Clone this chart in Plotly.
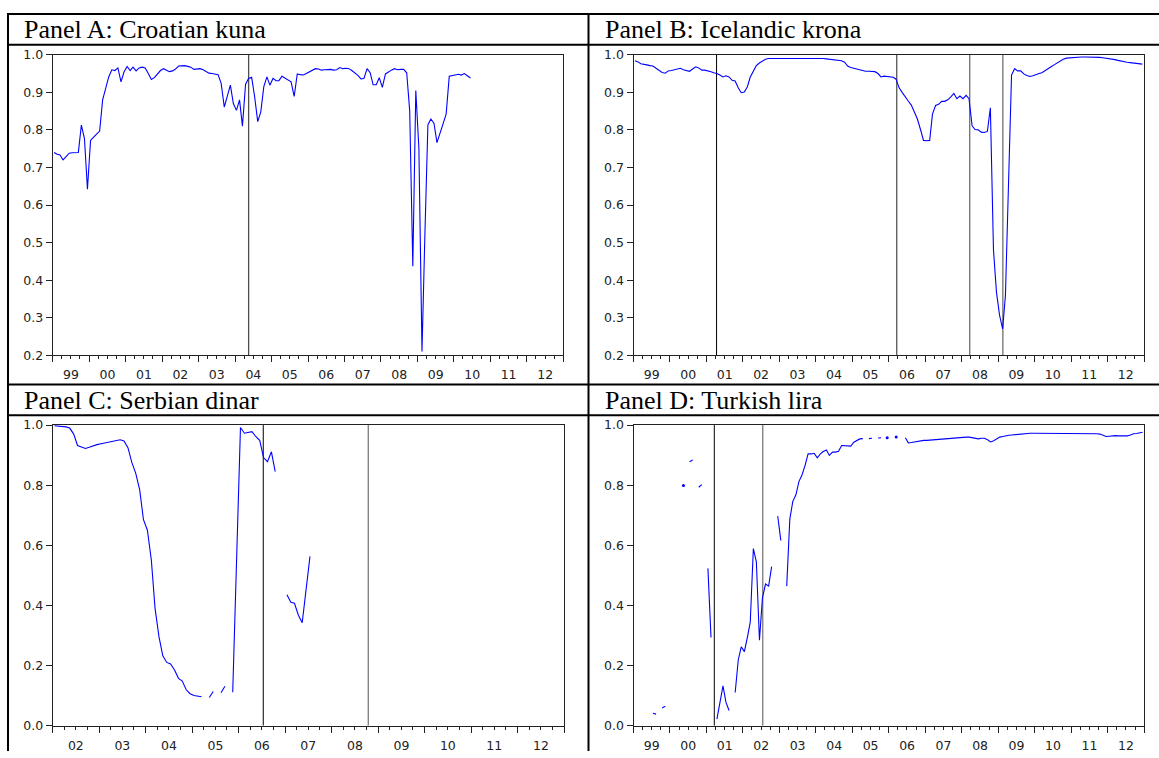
import pandas as pd
import plotly.graph_objects as go

W, H = 1159, 758

# ---------------- data (monthly observations) ----------------
hr_start = "1999-01-01"
hr_vals = [
    0.740, 0.735, 0.733, 0.720, 0.729, 0.738, 0.739, 0.739, 0.740, 0.813, 0.777, 0.642,
    0.772, 0.781, 0.790, 0.797, 0.880, 0.915, 0.941, 0.960, 0.958, 0.965, 0.928, 0.954,
    0.969, 0.958, 0.967, 0.957, 0.965, 0.967, 0.965, 0.950, 0.934, 0.939, 0.950, 0.958,
    0.963, 0.958, 0.955, 0.957, 0.962, 0.970, 0.971, 0.971, 0.969, 0.967, 0.961, 0.962,
    0.963, 0.960, 0.955, 0.951, 0.950, 0.948, 0.947, 0.924, 0.861, 0.889, 0.919, 0.870,
    0.852, 0.880, 0.810, 0.921, 0.937, 0.940, 0.889, 0.822, 0.848, 0.915, 0.941, 0.919,
    0.937, 0.931, 0.931, 0.943, 0.938, 0.931, 0.928, 0.889, 0.949, 0.947, 0.946, 0.950,
    0.955, 0.960, 0.963, 0.962, 0.959, 0.960, 0.961, 0.961, 0.959, 0.960, 0.966, 0.963,
    0.964, 0.963, 0.958, 0.952, 0.945, 0.936, 0.937, 0.963, 0.952, 0.920, 0.920, 0.939,
    0.913, 0.949, 0.955, 0.959, 0.963, 0.960, 0.961, 0.961, 0.952, 0.850, 0.437, 0.905,
    0.750, 0.210, 0.510, 0.813, 0.829, 0.818, 0.766, 0.791, 0.816, 0.842, 0.943, 0.945,
    0.946, 0.948, 0.946, 0.950, 0.944, 0.938,
]

is_start = "1999-01-01"
is_vals = [
    0.984, 0.981, 0.976, 0.975, 0.973, 0.971, 0.970, 0.964, 0.958, 0.953, 0.951, 0.957,
    0.958, 0.960, 0.962, 0.964, 0.960, 0.957, 0.956, 0.962, 0.968, 0.965, 0.959, 0.959,
    0.958, 0.955, 0.952, 0.950, 0.946, 0.941, 0.944, 0.941, 0.932, 0.930, 0.912, 0.899,
    0.901, 0.915, 0.940, 0.958, 0.971, 0.978, 0.984, 0.988, 0.990, 0.990, 0.991, 0.991,
    0.991, 0.992, 0.992, 0.992, 0.992, 0.992, 0.992, 0.992, 0.992, 0.992, 0.992, 0.991,
    0.991, 0.990, 0.990, 0.989, 0.988, 0.987, 0.986, 0.985, 0.984, 0.980, 0.970, 0.966,
    0.965, 0.962, 0.960, 0.957, 0.956, 0.956, 0.955, 0.955, 0.950, 0.941, 0.943, 0.942,
    0.942, 0.940, 0.935, 0.912, 0.900, 0.887, 0.877, 0.866, 0.846, 0.829, 0.801, 0.772,
    0.771, 0.772, 0.842, 0.865, 0.868, 0.876, 0.876, 0.880, 0.888, 0.897, 0.883, 0.890,
    0.883, 0.892, 0.883, 0.811, 0.801, 0.800, 0.794, 0.793, 0.796, 0.859, 0.481, 0.368,
    0.307, 0.270, 0.360, 0.650, 0.946, 0.963, 0.957, 0.957, 0.949, 0.945, 0.942, 0.944,
    0.948, 0.950, 0.952, 0.958, 0.963, 0.968, 0.973, 0.978, 0.985, 0.988, 0.991, 0.992,
    0.993, 0.993, 0.994, 0.994, 0.994, 0.994, 0.994, 0.994, 0.993, 0.993, 0.992, 0.991,
    0.990, 0.989, 0.987, 0.985, 0.983, 0.981, 0.980, 0.979, 0.978, 0.977, 0.976, 0.975,
]

rs_start = "2002-01-01"
rs_vals = [
    0.998, 0.997, 0.996, 0.994, 0.990, 0.970, 0.932, 0.928, 0.922, 0.926, 0.931, 0.935,
    0.938, 0.941, 0.943, 0.945, 0.948, 0.951, 0.947, 0.925, 0.875, 0.840, 0.785, 0.685,
    0.650, 0.550, 0.390, 0.295, 0.232, 0.210, 0.205, 0.185, 0.157, 0.148, 0.119, 0.106,
    0.100, 0.097, 0.096, None, 0.093, 0.113, None, 0.109, 0.131, None, 0.111, 0.550,
    0.992, 0.973, 0.976, 0.978, 0.962, 0.949, 0.892, 0.878, 0.911, 0.845, None, None,
    0.435, 0.410, 0.407, 0.367, 0.342, 0.450, 0.563,
]

tr_start = "1999-01-01"
tr_vals = [
    None, None, None, None, None, None, 0.041, 0.038, None, 0.058, 0.064, None,
    None, None, None, None, 0.799, None, 0.878, 0.884, None, 0.793, 0.802, None,
    0.523, 0.293, None, 0.021, 0.077, 0.132, 0.077, 0.050, None, 0.110, 0.219, 0.262,
    0.246, 0.295, 0.344, 0.589, 0.545, 0.284, 0.425, 0.471, 0.464, 0.529, None, 0.697,
    0.616, None, 0.464, 0.687, 0.746, 0.768, 0.812, 0.834, 0.866, 0.904, 0.904, 0.906,
    0.891, 0.904, 0.912, 0.917, 0.899, 0.910, 0.910, 0.913, 0.932, 0.932, 0.931, 0.930,
    0.943, 0.950, 0.954, 0.955, None, 0.955, 0.956, None, 0.957, 0.958, None, 0.958,
    None, None, 0.960, None, None, 0.958, 0.941, 0.942, 0.944, 0.947, 0.948, 0.949,
    0.949, 0.950, 0.950, 0.951, 0.952, 0.952, 0.953, 0.954, 0.956, 0.958, 0.958, 0.959,
    0.959, 0.960, 0.960, 0.958, 0.956, 0.954, 0.956, 0.956, 0.951, 0.944, 0.948, 0.953,
    0.960, 0.962, 0.965, 0.966, 0.967, 0.968, 0.970, 0.972, 0.972, 0.973, 0.973, 0.973,
    0.973, 0.973, 0.973, 0.973, 0.973, 0.973, 0.973, 0.973, 0.973, 0.973, 0.973, 0.973,
    0.973, 0.973, 0.973, 0.973, 0.973, 0.972, 0.972, 0.972, 0.971, 0.970, 0.965, 0.962,
    0.963, 0.965, 0.965, 0.964, 0.964, 0.964, 0.964, 0.967, 0.971, 0.972, 0.974, 0.976,
]

titles = ["Panel A: Croatian kuna", "Panel B: Icelandic krona",
          "Panel C: Serbian dinar", "Panel D: Turkish lira"]

# event (vertical) lines: date, colour
hr_events = [("2004-05-16", "#4d4d4d")]
is_events = [("2001-04-12", "#000000"), ("2006-03-22", "#555555"),
             ("2008-03-22", "#707070"), ("2009-02-17", "#707070")]
rs_events = [("2006-07-13", "#000000"), ("2008-10-15", "#7a7a7a")]
tr_events = [("2001-03-20", "#000000"), ("2002-07-18", "#7a7a7a")]

first_years = [1999, 1999, 2002, 1999]
last_year = 2013
y_ranges = [(0.2, 1.0), (0.2, 1.0), (0.0, 1.0), (0.0, 1.0)]
y_steps = [0.1, 0.1, 0.2, 0.2]

# ---------------- layout geometry (px) ----------------
# (left, right, top, bottom) of each plot frame
frames = [(52.7, 563.4, 47.7, 354.3), (633.5, 1144.0, 47.7, 354.3),
          (52.7, 564.2, 425.5, 732.0), (633.5, 1144.3, 425.5, 732.0)]
title_pos = [(22, 22), (603, 22), (22, 400), (603, 400)]

BLUE = "#0000ff"
AX = "#222222"
TICKFONT = dict(family="DejaVu Sans", size=12.5, color=AX)

series = [(hr_start, hr_vals, hr_events), (is_start, is_vals, is_events),
          (rs_start, rs_vals, rs_events), (tr_start, tr_vals, tr_events)]

fig = go.Figure()
layout = dict(width=W, height=H, margin=dict(l=0, r=0, t=0, b=0),
              paper_bgcolor="white", plot_bgcolor="white", showlegend=False)
shapes = []
annotations = []

for i, ((start, vals, events), (fl, fr, ft, fb)) in enumerate(zip(series, frames)):
    n = i + 1
    xa = "x" if n == 1 else f"x{n}"
    ya = "y" if n == 1 else f"y{n}"
    xkey = "xaxis" if n == 1 else f"xaxis{n}"
    ykey = "yaxis" if n == 1 else f"yaxis{n}"
    lab_n = n + 4
    lab_key = f"xaxis{lab_n}"

    dates = pd.date_range(start, periods=len(vals), freq="MS") + pd.Timedelta(days=14)
    fig.add_trace(go.Scatter(x=dates, y=vals, mode="lines", xaxis=xa, yaxis=ya,
                             line=dict(color=BLUE, width=1.1), connectgaps=False,
                             hoverinfo="skip"))
    # isolated observations (no neighbours) drawn as dots
    iso_x, iso_y = [], []
    for k, v in enumerate(vals):
        if v is None:
            continue
        prev_ok = k > 0 and vals[k - 1] is not None
        next_ok = k < len(vals) - 1 and vals[k + 1] is not None
        if not prev_ok and not next_ok:
            iso_x.append(dates[k])
            iso_y.append(v)
    if iso_x:
        fig.add_trace(go.Scatter(x=iso_x, y=iso_y, mode="markers", xaxis=xa, yaxis=ya,
                                 marker=dict(color=BLUE, size=3), hoverinfo="skip"))
    # empty trace so the label axis owns a subplot
    fig.add_trace(go.Scatter(x=[], y=[], xaxis=f"x{lab_n}", yaxis=ya, hoverinfo="skip"))

    y0 = first_years[i]
    yrs = list(range(y0, last_year + 1))
    year_ticks = [f"{y}-01-01" for y in yrs]
    quarter_ticks = [f"{y}-{m:02d}-01" for y in yrs[:-1] for m in (4, 7, 10)]
    mid_ticks = [f"{y}-07-02" for y in yrs[:-1]]
    mid_text = [f"{y % 100:02d}" for y in yrs[:-1]]
    xr = [f"{y0}-01-01", f"{last_year}-01-01"]
    dom_x = [fl / W, fr / W]
    dom_y = [1 - fb / H, 1 - ft / H]

    layout[xkey] = dict(domain=dom_x, anchor=ya, range=xr, type="date",
                        tickmode="array", tickvals=year_ticks, showticklabels=False,
                        ticks="outside", ticklen=6, tickwidth=1, tickcolor=AX,
                        minor=dict(tickmode="array", tickvals=quarter_ticks,
                                   ticks="outside", ticklen=3, tickwidth=1,
                                   tickcolor=AX, showgrid=False),
                        showline=True, mirror=True, linecolor=AX, linewidth=1,
                        showgrid=False, zeroline=False, fixedrange=True)
    layout[lab_key] = dict(overlaying=xa, anchor=ya, side="bottom", range=xr,
                           type="date", tickmode="array", tickvals=mid_ticks,
                           ticktext=mid_text, ticks="outside", ticklen=8,
                           tickcolor="rgba(0,0,0,0)", tickfont=TICKFONT,
                           showline=False, showgrid=False, zeroline=False,
                           fixedrange=True)
    lo, hi = y_ranges[i]
    step = y_steps[i]
    nt = int(round((hi - lo) / step))
    ytv = [round(lo + k * step, 2) for k in range(nt + 1)]
    layout[ykey] = dict(domain=dom_y, anchor=xa, range=[lo, hi], tickmode="array",
                        tickvals=ytv, tickformat=".1f", ticks="outside", ticklen=6,
                        tickwidth=1, tickcolor=AX, tickfont=TICKFONT,
                        showline=True, mirror=True, linecolor=AX, linewidth=1,
                        showgrid=False, zeroline=False, fixedrange=True)

    for d, col in events:
        shapes.append(dict(type="line", xref=xa, yref=f"{ya} domain",
                           x0=d, x1=d, y0=0, y1=1, layer="below",
                           line=dict(color=col, width=1.3 if col != "#000000" else 1)))

    tx, ty = title_pos[i]
    annotations.append(dict(text=titles[i], xref="paper", yref="paper",
                            x=tx / W, y=1 - ty / H, xanchor="left", yanchor="middle",
                            showarrow=False,
                            font=dict(family="Liberation Serif", size=26, color="black")))

# table borders
def hline(y, x0=7, x1=W):
    return dict(type="line", xref="paper", yref="paper", x0=x0 / W, x1=x1 / W,
                y0=1 - y / H, y1=1 - y / H, line=dict(color="black", width=2))

def vline(x, y0=5, y1=H):
    return dict(type="line", xref="paper", yref="paper", x0=x / W, x1=x / W,
                y0=1 - y0 / H, y1=1 - y1 / H, line=dict(color="black", width=2))

shapes += [hline(6), hline(37.5), hline(384), hline(415.5), vline(8), vline(588.5)]

layout["shapes"] = shapes
layout["annotations"] = annotations
fig.update_layout(**layout)
fig.write_html("out.html")
